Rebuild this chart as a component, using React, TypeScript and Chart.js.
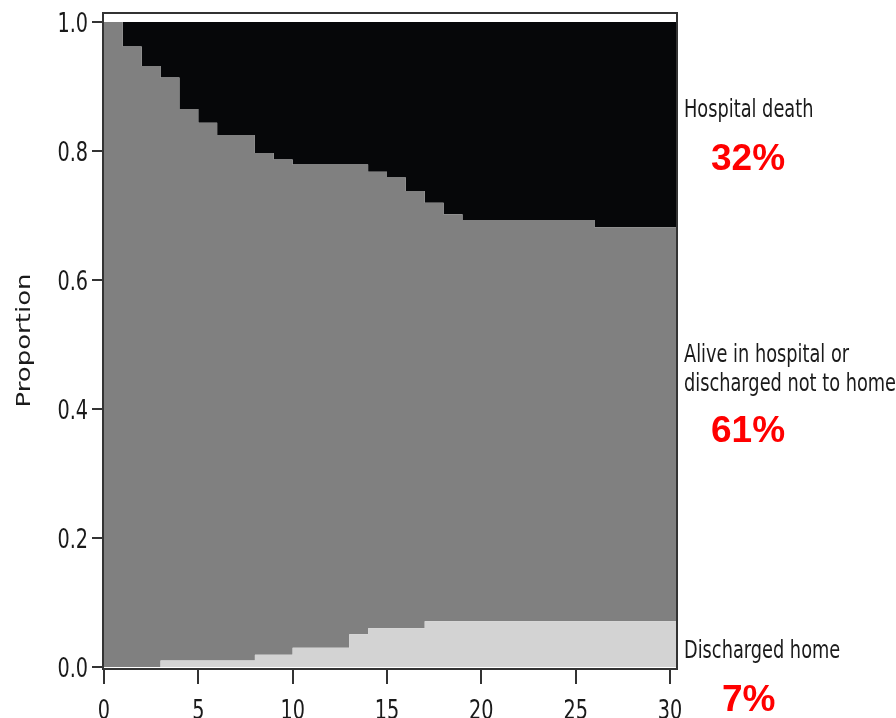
import { useEffect, useRef } from "react";
import { Chart, registerables } from "chart.js";

Chart.register(...registerables);

// Step start day for each interval (last entry closes the final step)
const DAYS = [0, 1, 2, 3, 4, 5, 6, 7, 8, 9, 10, 11, 12, 13, 14, 15, 16, 17, 18, 19, 20, 21, 22, 23, 24, 25, 26, 27, 28, 29, 30, 31];

// Proportion in each state at each day
const DISCHARGED_HOME = [0, 0, 0, 0.01, 0.01, 0.01, 0.01, 0.01, 0.019, 0.019, 0.03, 0.03, 0.03, 0.051, 0.06, 0.06, 0.06, 0.071, 0.071, 0.071, 0.071, 0.071, 0.071, 0.071, 0.071, 0.071, 0.071, 0.071, 0.071, 0.071, 0.071, 0.071];
const ALIVE_NOT_HOME = [1.0, 0.962, 0.932, 0.904, 0.855, 0.834, 0.815, 0.815, 0.778, 0.768, 0.749, 0.749, 0.749, 0.728, 0.708, 0.699, 0.678, 0.649, 0.631, 0.622, 0.622, 0.622, 0.622, 0.622, 0.622, 0.622, 0.611, 0.611, 0.611, 0.611, 0.611, 0.611];
const HOSPITAL_DEATH = [0, 0.038, 0.068, 0.086, 0.135, 0.156, 0.175, 0.175, 0.203, 0.213, 0.221, 0.221, 0.221, 0.221, 0.232, 0.241, 0.262, 0.28, 0.298, 0.307, 0.307, 0.307, 0.307, 0.307, 0.307, 0.307, 0.318, 0.318, 0.318, 0.318, 0.318, 0.318];

const X_TICKS = [0, 5, 10, 15, 20, 25, 30];
const Y_TICKS = [0, 0.2, 0.4, 0.6, 0.8, 1.0];
const X_TICK_LABELS = ["0", "5", "10", "15", "20", "25", "30"];
const Y_TICK_LABELS = ["0.0", "0.2", "0.4", "0.6", "0.8", "1.0"];
const Y_TITLE = "Proportion";

const STATE_LABELS = ["Discharged home", "Alive in hospital or discharged not to home", "Hospital death"];
const STATE_PERCENTS = ["7%", "61%", "32%"];

const FONT = '"DejaVu Sans", sans-serif';
const SQUEEZE = 0.74;

const toPoints = (vals: number[]) => DAYS.map((d, i) => ({ x: d, y: vals[i] }));

function squeezedText(ctx: CanvasRenderingContext2D, text: string, x: number, y: number, size: number, align: CanvasTextAlign) {
  ctx.save();
  ctx.translate(x, y);
  ctx.scale(SQUEEZE, 1);
  ctx.font = size + "px " + FONT;
  ctx.textAlign = align;
  ctx.textBaseline = "alphabetic";
  ctx.fillText(text, 0, 0);
  ctx.restore();
}

const framePlugin = {
  id: "frameAndText",
  afterDatasetsDraw(chart: any) {
    const { ctx, chartArea } = chart;
    ctx.save();
    ctx.strokeStyle = "#333333";
    ctx.lineWidth = 2;
    ctx.strokeRect(chartArea.left, chartArea.top, chartArea.right - chartArea.left, chartArea.bottom - chartArea.top);
    ctx.restore();
  },
  afterDraw(chart: any) {
    const { ctx, chartArea, scales } = chart;
    ctx.save();
    ctx.fillStyle = "#1a1a1a";

    // tick labels, placed by the chart's own scales
    const xs = scales.x;
    xs.ticks.forEach((t: any, i: number) => {
      const px = xs.getPixelForValue(t.value);
      squeezedText(ctx, X_TICK_LABELS[i], px, 719, 26, "center");
    });
    const ys = scales.y;
    ys.ticks.forEach((t: any, i: number) => {
      const py = ys.getPixelForValue(t.value);
      squeezedText(ctx, Y_TICK_LABELS[i], chartArea.left - 15, py + 9.5, 26, "right");
    });

    // Y axis title (squeezed across its height like the reference)
    ctx.save();
    ctx.translate(29.5, 340.5);
    ctx.rotate(-Math.PI / 2);
    ctx.scale(1, SQUEEZE);
    ctx.font = "26px " + FONT;
    ctx.textAlign = "center";
    ctx.textBaseline = "alphabetic";
    ctx.fillText(Y_TITLE, 0, 0);
    ctx.restore();

    const lx = chartArea.right + 7;
    squeezedText(ctx, STATE_LABELS[2], lx, 116.5, 24, "left");
    squeezedText(ctx, "Alive in hospital or", lx, 362, 24, "left");
    squeezedText(ctx, "discharged not to home", lx, 391, 24, "left");
    squeezedText(ctx, STATE_LABELS[0], lx, 657.5, 24, "left");

    ctx.fillStyle = "#ff0000";
    ctx.font = 'bold 37px "Liberation Sans", Arial, sans-serif';
    ctx.textAlign = "left";
    ctx.textBaseline = "alphabetic";
    ctx.fillText(STATE_PERCENTS[2], lx + 27, 169.5);
    ctx.fillText(STATE_PERCENTS[1], lx + 27, 442);
    ctx.fillText(STATE_PERCENTS[0], lx + 38, 711);
    ctx.restore();
  },
};

export default function App() {
  const ref = useRef<HTMLCanvasElement | null>(null);

  useEffect(() => {
    if (!ref.current) return;
    const chart = new Chart(ref.current, {
      type: "line",
      data: {
        datasets: [
          {
            label: STATE_LABELS[0],
            data: toPoints(DISCHARGED_HOME),
            stepped: "before",
            fill: "origin",
            backgroundColor: "#d3d3d3",
            borderWidth: 0,
            pointRadius: 0,
          },
          {
            label: STATE_LABELS[1],
            data: toPoints(ALIVE_NOT_HOME),
            stepped: "before",
            fill: "-1",
            backgroundColor: "#808080",
            borderWidth: 0,
            pointRadius: 0,
          },
          {
            label: STATE_LABELS[2],
            data: toPoints(HOSPITAL_DEATH),
            stepped: "before",
            fill: "-1",
            backgroundColor: "#060709",
            borderWidth: 0,
            pointRadius: 0,
          },
        ],
      },
      options: {
        responsive: false,
        animation: false,
        events: [],
        layout: { padding: { top: 13, right: 219, left: 0, bottom: 0 } },
        plugins: { legend: { display: false }, tooltip: { enabled: false } },
        scales: {
          x: {
            type: "linear",
            min: -0.05,
            max: 30.37,
            afterBuildTicks: (scale: any) => {
              scale.ticks = X_TICKS.map((v) => ({ value: v }));
            },
            afterFit: (scale: any) => {
              scale.height = 49;
              scale.paddingLeft = 0;
              scale.paddingRight = 0;
            },
            border: { display: false },
            grid: { drawOnChartArea: false, drawTicks: true, tickLength: 15, tickColor: "#333333", lineWidth: 2 },
            ticks: { display: false },
          },
          y: {
            type: "linear",
            stacked: true,
            min: -0.003,
            max: 1.014,
            afterBuildTicks: (scale: any) => {
              scale.ticks = Y_TICKS.map((v) => ({ value: v }));
            },
            afterFit: (scale: any) => {
              scale.width = 103;
              scale.paddingTop = 0;
              scale.paddingBottom = 0;
            },
            border: { display: false },
            grid: { drawOnChartArea: false, drawTicks: true, tickLength: 11, tickColor: "#333333", lineWidth: 2 },
            ticks: { display: false },
          },
        },
      },
      plugins: [framePlugin],
    });
    return () => chart.destroy();
  }, []);

  return (
    <div style={{ position: "fixed", left: 0, top: 0, width: 896, height: 718, background: "#ffffff" }}>
      <canvas ref={ref} width={896} height={718} style={{ display: "block" }} />
    </div>
  );
}
